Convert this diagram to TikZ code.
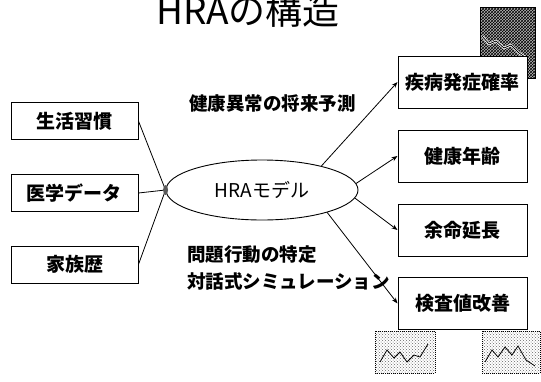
\documentclass[tikz,border=0pt]{standalone}
\usepackage{fontspec}
\setmainfont{Noto Sans CJK JP}
\usetikzlibrary{arrows.meta,shapes.geometric,patterns}
\tikzset{
  boxL/.style={draw, line width=0.9pt, fill=white, minimum width=127pt, minimum height=37pt, inner sep=0pt, font=\fontsize{19}{19}\selectfont\bfseries},
  boxR/.style={draw, line width=1pt, fill=white, minimum width=129pt, minimum height=52pt, inner sep=0pt, font=\fontsize{19}{19}\selectfont\bfseries},
  lbl/.style={anchor=west, inner sep=0pt, font=\fontsize{18.5}{18.5}\selectfont\bfseries},
  conn/.style={line width=0.8pt},
  arr/.style={conn, -{Stealth[length=6pt,width=4.5pt]}},
  chartA/.style={pattern=crosshatch, pattern color=black, draw, line width=0.9pt},
  chartB/.style={pattern=crosshatch dots, pattern color=gray!80!black, draw, line width=1pt, densely dotted},
  zig/.style={line width=0.8pt}
}
\begin{document}
\begin{tikzpicture}[x=1pt,y=-1pt]
\useasboundingbox (0,0) rectangle (541,381);
\clip (0,0) rectangle (541,381);
% title
\node[anchor=base, inner sep=0pt, font=\fontsize{37}{37}\selectfont] (title) at (248,24) {HRAの構造};
% decorative chart thumbnails
\fill[gray!55] (480,7) rectangle (535,78);
\draw[chartA] (480,7) rectangle (535,78);
\draw[zig, white, line width=2.4pt] (482,36) -- (489,44) -- (496,41) -- (504,48) -- (511,45) -- (519,53) -- (528,59);
\draw[zig] (482,36) -- (489,44) -- (496,41) -- (504,48) -- (511,45) -- (519,53) -- (528,59);
\draw[chartB] (375,331) rectangle (435,373);
\draw[zig] (380,362) -- (387,350) -- (394,358) -- (400,352) -- (407,362) -- (414,355) -- (420,357) -- (428,344);
\draw[chartB] (482,331) rectangle (540,373);
\draw[zig] (485,362) -- (492,350) -- (498,357) -- (505,347) -- (512,355) -- (518,346) -- (526,360) -- (535,366);
% left boxes
\node[boxL] (habit) at (74.5,121) {生活習慣};
\node[boxL] (med) at (74.5,193) {医学データ};
\node[boxL] (fam) at (74.5,264.5) {家族歴};
% model
\node[draw, ellipse, line width=0.9pt, minimum width=192pt, minimum height=60pt, inner sep=0pt, font=\fontsize{19}{19}\selectfont] (model) at (262,190) {HRAモデル};
\coordinate (conv) at (model.west);
\draw[conn] (habit.east) -- (conv);
\draw[conn] (med.east) -- (conv);
\draw[conn] (fam.east) -- (conv);
\fill[gray!70!black] (conv) ellipse (2.5pt and 5pt);
% right boxes
\node[boxR] (r1) at (462.5,82) {疾病発症確率};
\node[boxR] (r2) at (462.5,156) {健康年齢};
\node[boxR] (r3) at (462.5,230) {余命延長};
\node[boxR] (r4) at (462.5,303.5) {検査値改善};
\draw[arr] (model.22) -- (r1.west);
\draw[arr] (model.4) -- (r2.west);
\draw[arr] (model.-5) -- (r3.west);
\draw[arr] (model.-19) -- (r4.west);
% labels
\node[lbl] (l1) at (189,103) {健康異常の将来予測};
\node[lbl] (l2) at (187,255) {問題行動の特定};
\node[lbl] (l3) at (187,281) {対話式シミュレーション};
\end{tikzpicture}
\end{document}
